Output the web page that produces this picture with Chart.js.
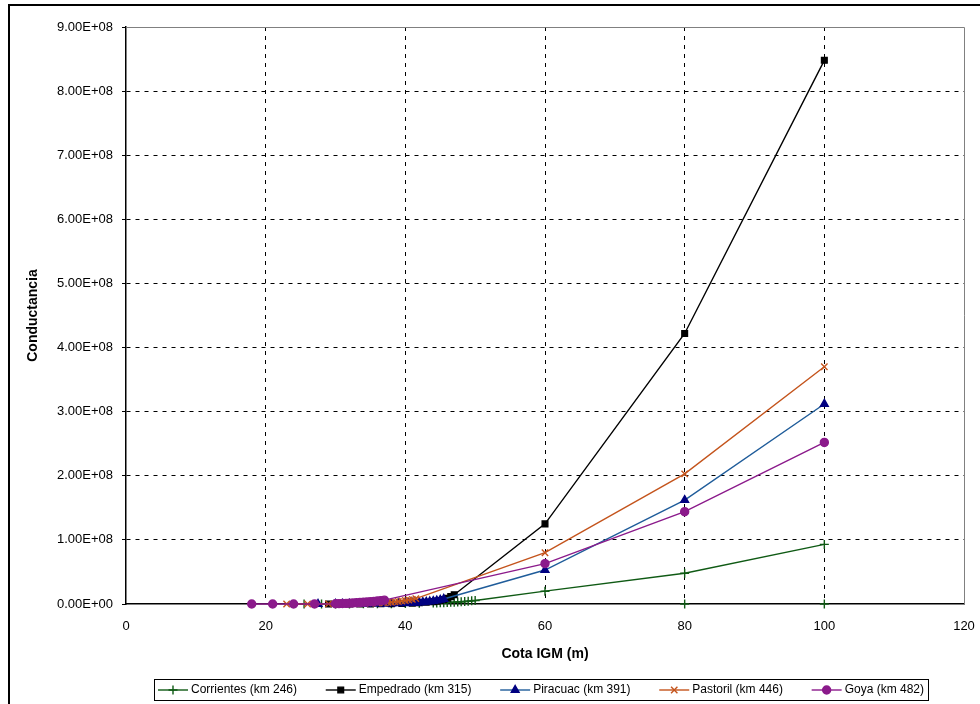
<!DOCTYPE html>
<html>
<head>
<meta charset="utf-8">
<script src="https://cdn.jsdelivr.net/npm/chart.js@4"></script>
<style>
  body { margin: 0; background: #fff; }
  #wrap { width: 980px; height: 704px; }
</style>
</head>
<body>
<div id="wrap"><canvas id="chart" width="980" height="704"></canvas></div>
<script>
'use strict';

// Series data (x = Cota IGM in m, y = Conductancia)
const corrientesX = [25.5, 28, 30, 32, 34, 36, 38, 40, 42, 44, 44.5, 45, 45.5, 46, 46.5, 47, 47.5, 48, 48.5, 49, 49.5, 50, 60, 80, 100];
const corrientesY = [0, 5e4, 1e5, 1.5e5, 2.5e5, 3.5e5, 5e5, 7e5, 1e6, 1.4e6, 1.6e6, 1.8e6, 2e6, 2.3e6, 2.6e6, 2.9e6, 3.2e6, 3.6e6, 4e6, 4.4e6, 4.9e6, 5.4e6, 2.0e7, 4.8e7, 9.3e7];
const corrientesZeroX = [80, 100];
const corrientesZeroY = [0, 0];

const empedradoX = [29, 32, 33.5, 35, 36.5, 38, 39.5, 41, 42, 43, 44, 44.5, 45, 45.5, 46, 46.5, 47, 60, 80, 100];
const empedradoY = [0, 5e4, 1e5, 1.5e5, 2.5e5, 4e5, 7e5, 1.2e6, 1.8e6, 2.6e6, 3.7e6, 4.5e6, 5.5e6, 7e6, 9e6, 1.15e7, 1.45e7, 1.25e8, 4.22e8, 8.48e8];

const piracuacX = [27.5, 30, 31, 32, 33, 34, 35, 36, 37, 38, 39, 40, 40.5, 41, 41.5, 42, 42.5, 43, 43.5, 44, 44.5, 45, 45.5, 60, 80, 100];
const piracuacY = [0, 5e4, 8e4, 1e5, 1.5e5, 2e5, 3e5, 4e5, 5e5, 7e5, 9e5, 1.2e6, 1.4e6, 1.7e6, 2e6, 2.4e6, 2.8e6, 3.3e6, 3.9e6, 4.6e6, 5.4e6, 6.4e6, 7.8e6, 5.3e7, 1.62e8, 3.12e8];

const pastorilX = [23, 26, 29, 31, 33, 35, 36, 37, 37.5, 38, 38.5, 39, 39.5, 40, 40.5, 41, 41.5, 60, 80, 100];
const pastorilY = [0, 2e4, 1e5, 3e5, 6e5, 1.1e6, 1.5e6, 2e6, 2.4e6, 2.8e6, 3.3e6, 3.9e6, 4.6e6, 5.4e6, 6.3e6, 7.3e6, 8.4e6, 8.0e7, 2.03e8, 3.70e8];

const goyaX = [18, 21, 24, 27, 30, 30.5, 31, 31.5, 32, 32.5, 33, 33.5, 34, 34.5, 35, 35.5, 36, 36.5, 37, 60, 80, 100];
const goyaY = [0, 0, 1e4, 1e5, 4e5, 6e5, 8e5, 1e6, 1.3e6, 1.6e6, 1.9e6, 2.3e6, 2.7e6, 3.1e6, 3.6e6, 4.1e6, 4.7e6, 5.3e6, 6.0e6, 6.3e7, 1.44e8, 2.52e8];

// Axis ticks
const xTicks = [0, 20, 40, 60, 80, 100, 120];
const yMax = 9e8;
const yStep = 1e8;

// Build points list
function toPoints(xs, ys) {
    return xs.map((x, i) => ({ x: x, y: ys[i] }));
}

// Excel style number format, e.g. 9.00E+08
function sciLabel(v) {
    if (v === 0) {
        return '0.00E+00';
    }
    let e = Math.floor(Math.log10(Math.abs(v)) + 1e-9);
    let m = v / Math.pow(10, e);
    return m.toFixed(2) + 'E+' + String(e).padStart(2, '0');
}

const FONT = 'Arial, "Liberation Sans", sans-serif';

// Draw frame, plot border and legend
const framePlugin = {
    id: 'frame',
    beforeDatasetsDraw(chart) {
        const ctx = chart.ctx;
        const a = chart.chartArea;
        ctx.save();
        ctx.strokeStyle = '#808080';
        ctx.lineWidth = 1;
        ctx.beginPath();
        ctx.moveTo(a.left, a.top + 0.5);
        ctx.lineTo(a.right + 0.5, a.top + 0.5);
        ctx.lineTo(a.right + 0.5, a.bottom);
        ctx.stroke();
        ctx.restore();
    },
    afterDraw(chart) {
        const ctx = chart.ctx;
        ctx.save();

        // Outer chart border
        ctx.strokeStyle = '#000';
        ctx.lineWidth = 2;
        ctx.beginPath();
        ctx.moveTo(9, 704);
        ctx.lineTo(9, 5);
        ctx.lineTo(980, 5);
        ctx.stroke();

        // Legend box
        const box = { left: 154, top: 679, right: 928, bottom: 700 };
        ctx.lineWidth = 1;
        ctx.strokeStyle = '#000';
        ctx.strokeRect(box.left + 0.5, box.top + 0.5, box.right - box.left, box.bottom - box.top);

        ctx.font = '12px ' + FONT;
        ctx.textBaseline = 'middle';
        ctx.textAlign = 'left';
        const items = chart.data.datasets.filter(d => !d.hideInLegend);
        const sampleW = 30;
        const gapText = 3;
        let sum = 0;
        items.forEach(d => { sum += sampleW + gapText + ctx.measureText(d.label).width; });
        const inner = box.right - box.left - 8;
        const gap = (inner - sum) / (items.length - 1);
        const cy = (box.top + box.bottom) / 2 + 0.5;
        let x = box.left + 4;
        items.forEach(d => {
            ctx.strokeStyle = d.borderColor;
            ctx.lineWidth = d.borderWidth;
            ctx.beginPath();
            ctx.moveTo(x, cy);
            ctx.lineTo(x + sampleW, cy);
            ctx.stroke();
            ctx.fillStyle = d.pointBackgroundColor;
            ctx.strokeStyle = d.pointBorderColor;
            ctx.lineWidth = d.pointBorderWidth;
            Chart.helpers.drawPoint(ctx, {
                pointStyle: d.pointStyle,
                radius: d.pointRadius,
                rotation: 0,
                borderWidth: d.pointBorderWidth
            }, x + sampleW / 2, cy);
            ctx.fillStyle = '#000';
            ctx.fillText(d.label, x + sampleW + gapText, cy);
            x += sampleW + gapText + ctx.measureText(d.label).width + gap;
        });
        ctx.restore();
    }
};

// Dataset helper
function series(label, xs, ys, lineColor, markColor, style, radius, order) {
    return {
        label: label,
        data: toPoints(xs, ys),
        borderColor: lineColor,
        borderWidth: 1.4,
        pointStyle: style,
        pointRadius: radius,
        pointHoverRadius: radius,
        pointBackgroundColor: markColor,
        pointBorderColor: markColor,
        pointBorderWidth: 1.4,
        showLine: true,
        tension: 0,
        clip: false,
        order: order
    };
}

const datasets = [
    series('Corrientes (km 246)', corrientesX, corrientesY, '#0f5a14', '#0f5a14', 'cross', 4.5, 5),
    series('Empedrado (km 315)', empedradoX, empedradoY, '#000000', '#000000', 'rect', 4, 4),
    series('Piracuac (km 391)', piracuacX, piracuacY, '#1f5c9a', '#000080', 'triangle', 4.5, 3),
    series('Pastoril (km 446)', pastorilX, pastorilY, '#c4541c', '#c4541c', 'crossRot', 4.5, 2),
    series('Goya (km 482)', goyaX, goyaY, '#8b1a8b', '#8b1a8b', 'circle', 4, 1)
];

// Extra Corrientes points lying on the axis
let zeroPts = series('Corrientes extra', corrientesZeroX, corrientesZeroY, '#0f5a14', '#0f5a14', 'cross', 4.5, 6);
zeroPts.showLine = false;
zeroPts.hideInLegend = true;
datasets.push(zeroPts);

const ctx = document.getElementById('chart').getContext('2d');
const chart = new Chart(ctx, {
    type: 'scatter',
    data: { datasets: datasets },
    options: {
        responsive: false,
        animation: false,
        events: [],
        layout: { padding: { left: 0, top: 27, right: 16, bottom: 0 } },
        plugins: {
            legend: { display: false },
            tooltip: { enabled: false }
        },
        scales: {
            x: {
                type: 'linear',
                min: 0,
                max: 120,
                afterBuildTicks: s => { s.ticks = xTicks.map(v => ({ value: v })); },
                afterFit: s => {
                    s.height = 100;
                    s.paddingLeft = 0;
                    s.paddingRight = 0;
                },
                ticks: {
                    color: '#000',
                    font: { family: FONT, size: 13 },
                    padding: 15,
                    maxRotation: 0
                },
                grid: {
                    drawTicks: false,
                    lineWidth: 1,
                    color: c => (c.tick && (c.tick.value === 0 || c.tick.value === 120)) ? 'rgba(0,0,0,0)' : '#000'
                },
                border: { display: true, color: '#000', width: 1.5, dash: [4, 5] },
                title: {
                    display: true,
                    text: 'Cota IGM (m)',
                    color: '#000',
                    font: { family: FONT, size: 14, weight: 'bold' },
                    padding: { top: 0, bottom: 41 }
                }
            },
            y: {
                type: 'linear',
                min: 0,
                max: yMax,
                afterFit: s => { s.width = 126; },
                ticks: {
                    stepSize: yStep,
                    color: '#000',
                    font: { family: FONT, size: 13 },
                    padding: 9,
                    callback: v => sciLabel(v)
                },
                grid: {
                    drawTicks: true,
                    tickLength: 4,
                    tickColor: '#000',
                    tickWidth: 1,
                    lineWidth: 1,
                    color: c => (c.tick && c.tick.value === 0) ? 'rgba(0,0,0,0)' : '#000'
                },
                border: { display: true, color: '#000', width: 1.5, dash: [4, 5] },
                title: {
                    display: true,
                    text: 'Conductancia',
                    color: '#000',
                    font: { family: FONT, size: 14, weight: 'bold' },
                    padding: { top: 25, bottom: 0 }
                }
            }
        }
    },
    plugins: [framePlugin]
});
</script>
</body>
</html>
